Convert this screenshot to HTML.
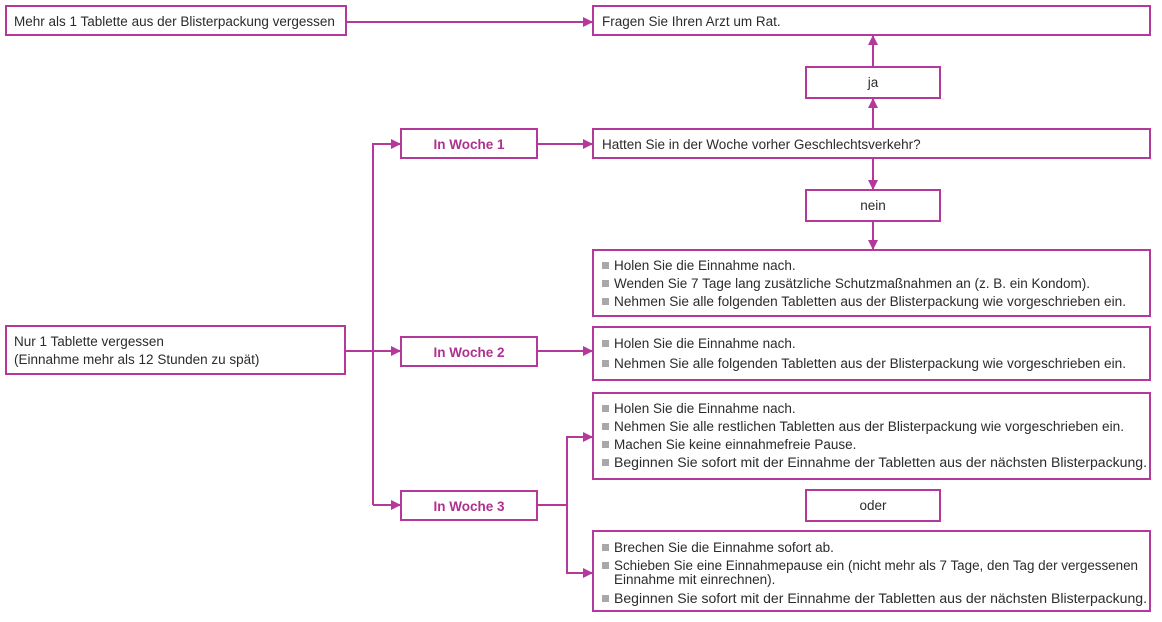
<!DOCTYPE html>
<html><head><meta charset="utf-8"><style>
html,body{margin:0;padding:0;background:#fff;}
svg{display:block;}
text{font-family:"Liberation Sans",sans-serif;font-size:13.5px;fill:#2b2b2b;}
.b{font-weight:bold;fill:#b0308f;}
rect.bx{fill:#fff;stroke:#b5399a;stroke-width:2;}
rect.bu{fill:#a8a8a8;}
line,polyline{stroke:#b5399a;stroke-width:2;fill:none;}
path.ah{fill:#b5399a;}
</style></head><body>
<svg width="1162" height="622" viewBox="0 0 1162 622">
<defs>
<marker id="a" markerWidth="10" markerHeight="10" refX="9" refY="5" orient="auto" markerUnits="userSpaceOnUse"><path class="ah" d="M0,0 L10,5 L0,10 z"/></marker>
</defs>
<line x1="346" y1="22" x2="592" y2="22" marker-end="url(#a)"/>
<line x1="873" y1="129" x2="873" y2="99" marker-end="url(#a)"/>
<line x1="873" y1="67" x2="873" y2="36" marker-end="url(#a)"/>
<line x1="537" y1="144" x2="592" y2="144" marker-end="url(#a)"/>
<line x1="873" y1="158" x2="873" y2="189" marker-end="url(#a)"/>
<line x1="873" y1="221" x2="873" y2="249" marker-end="url(#a)"/>
<line x1="345" y1="351" x2="400" y2="351" marker-end="url(#a)"/>
<polyline points="373,505 373,144 400,144" marker-end="url(#a)"/>
<line x1="373" y1="505" x2="400" y2="505" marker-end="url(#a)"/>
<line x1="537" y1="351" x2="592" y2="351" marker-end="url(#a)"/>
<line x1="537" y1="505" x2="567" y2="505"/>
<polyline points="567,505 567,437 592,437" marker-end="url(#a)"/>
<polyline points="567,505 567,573 592,573" marker-end="url(#a)"/>
<rect class="bx" x="6" y="6" width="340" height="29"/>
<text x="14" y="26">Mehr als 1 Tablette aus der Blisterpackung vergessen</text>
<rect class="bx" x="593" y="6" width="557" height="29"/>
<text x="602" y="26">Fragen Sie Ihren Arzt um Rat.</text>
<rect class="bx" x="806" y="67" width="134" height="31"/>
<text x="873" y="87" text-anchor="middle">ja</text>
<rect class="bx" x="401" y="129" width="136" height="29"/>
<text class="b" x="469" y="149" text-anchor="middle">In Woche 1</text>
<rect class="bx" x="593" y="129" width="557" height="29"/>
<text x="602" y="149">Hatten Sie in der Woche vorher Geschlechtsverkehr?</text>
<rect class="bx" x="806" y="190" width="134" height="31"/>
<text x="873" y="210" text-anchor="middle">nein</text>
<rect class="bx" x="593" y="250" width="557" height="66"/>
<rect class="bu" x="602" y="262" width="7" height="7"/><text x="614" y="270">Holen Sie die Einnahme nach.</text>
<rect class="bu" x="602" y="280" width="7" height="7"/><text x="614" y="288">Wenden Sie 7 Tage lang zusätzliche Schutzmaßnahmen an (z. B. ein Kondom).</text>
<rect class="bu" x="602" y="298" width="7" height="7"/><text x="614" y="306" textLength="512" lengthAdjust="spacingAndGlyphs">Nehmen Sie alle folgenden Tabletten aus der Blisterpackung wie vorgeschrieben ein.</text>
<rect class="bx" x="6" y="326" width="339" height="48"/>
<text x="14" y="346">Nur 1 Tablette vergessen</text>
<text x="14" y="364">(Einnahme mehr als 12 Stunden zu spät)</text>
<rect class="bx" x="401" y="337" width="136" height="29"/>
<text class="b" x="469" y="357" text-anchor="middle">In Woche 2</text>
<rect class="bx" x="593" y="327" width="557" height="53"/>
<rect class="bu" x="602" y="340" width="7" height="7"/><text x="614" y="348">Holen Sie die Einnahme nach.</text>
<rect class="bu" x="602" y="360" width="7" height="7"/><text x="614" y="368" textLength="512" lengthAdjust="spacingAndGlyphs">Nehmen Sie alle folgenden Tabletten aus der Blisterpackung wie vorgeschrieben ein.</text>
<rect class="bx" x="593" y="393" width="557" height="86"/>
<rect class="bu" x="602" y="405" width="7" height="7"/><text x="614" y="413">Holen Sie die Einnahme nach.</text>
<rect class="bu" x="602" y="423" width="7" height="7"/><text x="614" y="431" textLength="510" lengthAdjust="spacingAndGlyphs">Nehmen Sie alle restlichen Tabletten aus der Blisterpackung wie vorgeschrieben ein.</text>
<rect class="bu" x="602" y="441" width="7" height="7"/><text x="614" y="449">Machen Sie keine einnahmefreie Pause.</text>
<rect class="bu" x="602" y="459" width="7" height="7"/><text x="614" y="467" textLength="533" lengthAdjust="spacingAndGlyphs">Beginnen Sie sofort mit der Einnahme der Tabletten aus der nächsten Blisterpackung.</text>
<rect class="bx" x="401" y="491" width="136" height="29"/>
<text class="b" x="469" y="511" text-anchor="middle">In Woche 3</text>
<rect class="bx" x="806" y="490" width="134" height="31"/>
<text x="873" y="510" text-anchor="middle">oder</text>
<rect class="bx" x="593" y="531" width="557" height="80"/>
<rect class="bu" x="602" y="544" width="7" height="7"/><text x="614" y="552">Brechen Sie die Einnahme sofort ab.</text>
<rect class="bu" x="602" y="562" width="7" height="7"/><text x="614" y="570" textLength="524" lengthAdjust="spacingAndGlyphs">Schieben Sie eine Einnahmepause ein (nicht mehr als 7 Tage, den Tag der vergessenen</text>
<text x="614" y="584">Einnahme mit einrechnen).</text>
<rect class="bu" x="602" y="595" width="7" height="7"/><text x="614" y="603" textLength="533" lengthAdjust="spacingAndGlyphs">Beginnen Sie sofort mit der Einnahme der Tabletten aus der nächsten Blisterpackung.</text>
</svg>
</body></html>
